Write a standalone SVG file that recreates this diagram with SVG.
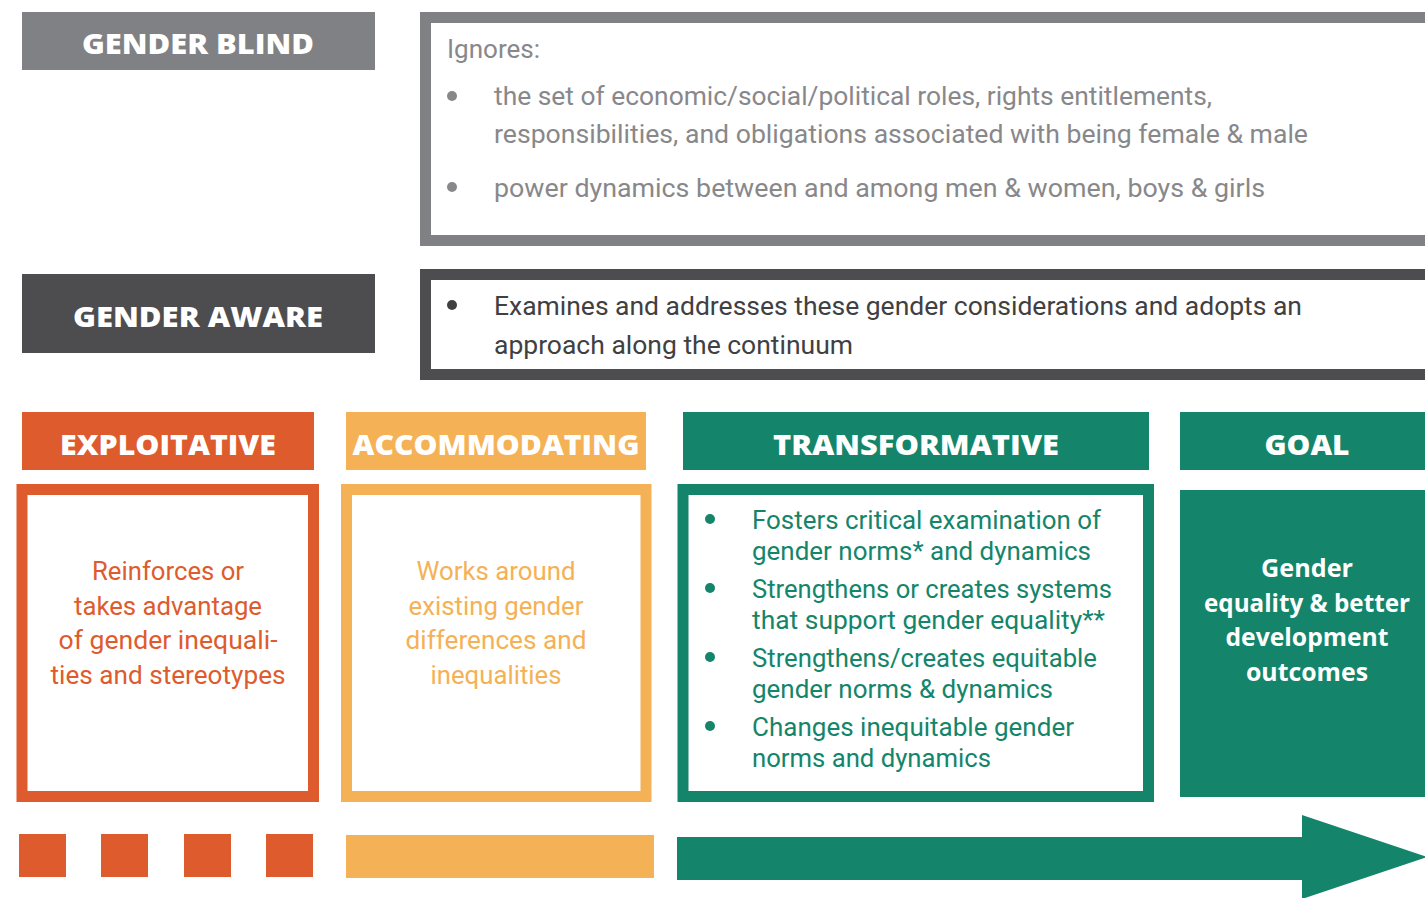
<svg xmlns="http://www.w3.org/2000/svg" width="1425" height="898" viewBox="0 0 1425 898">
<style>
.hd{font-family:"Open Sans","Liberation Sans",sans-serif;font-weight:800;font-size:29px;fill:#fff;text-anchor:middle}
.bd{font-family:Roboto,"Liberation Sans",sans-serif;font-size:26px}
.gb{font-family:"Open Sans","Liberation Sans",sans-serif;font-weight:700;font-size:25px;fill:#fff;text-anchor:middle}
.gray{fill:#88888b}.dark{fill:#404042}.org{fill:#de5b2e}.yel{fill:#f5b155}.grn{fill:#14856a}
.mid{text-anchor:middle}
</style>
<rect width="1425" height="898" fill="#fff"/>
<g id="gender-blind">
<rect x="22" y="12" width="353" height="58" fill="#808184"/>
<text class="hd" x="198" y="54" textLength="232" lengthAdjust="spacingAndGlyphs">GENDER BLIND</text>
</g>
<g id="gender-blind-desc">
<rect x="425.5" y="17.5" width="1010" height="223" fill="#fff" stroke="#808184" stroke-width="11"/>
<text class="bd gray" x="447" y="58" textLength="93" lengthAdjust="spacingAndGlyphs">Ignores:</text>
<circle cx="452" cy="96" r="5" fill="#88888b"/>
<text class="bd gray" x="494" y="105" textLength="718" lengthAdjust="spacingAndGlyphs">the set of economic/social/political roles, rights entitlements,</text>
<text class="bd gray" x="494" y="143" textLength="814" lengthAdjust="spacingAndGlyphs">responsibilities, and obligations associated with being female &amp; male</text>
<circle cx="452" cy="187" r="5" fill="#88888b"/>
<text class="bd gray" x="494" y="197" textLength="771" lengthAdjust="spacingAndGlyphs">power dynamics between and among men &amp; women, boys &amp; girls</text>
</g>
<g id="gender-aware">
<rect x="22" y="274" width="353" height="79" fill="#4d4d4f"/>
<text class="hd" x="198" y="327" textLength="250" lengthAdjust="spacingAndGlyphs">GENDER AWARE</text>
</g>
<g id="gender-aware-desc">
<rect x="425.5" y="274.5" width="1010" height="100" fill="#fff" stroke="#4d4d4f" stroke-width="11"/>
<circle cx="452" cy="305" r="5" fill="#404042"/>
<text class="bd dark" x="494" y="315" textLength="808" lengthAdjust="spacingAndGlyphs">Examines and addresses these gender considerations and adopts an</text>
<text class="bd dark" x="494" y="354" textLength="359" lengthAdjust="spacingAndGlyphs">approach along the continuum</text>
</g>
<g id="exploitative">
<rect x="22" y="412" width="292" height="58" fill="#de5b2e"/>
<text class="hd" x="168" y="455" textLength="216" lengthAdjust="spacingAndGlyphs">EXPLOITATIVE</text>
<rect x="22" y="489.5" width="291.5" height="307" fill="#fff" stroke="#de5b2e" stroke-width="11"/>
<text class="bd org mid" x="168" y="580" textLength="152" lengthAdjust="spacingAndGlyphs">Reinforces or</text>
<text class="bd org mid" x="168" y="615" textLength="188" lengthAdjust="spacingAndGlyphs">takes advantage</text>
<text class="bd org mid" x="168" y="649" textLength="219" lengthAdjust="spacingAndGlyphs">of gender inequali-</text>
<text class="bd org mid" x="168" y="684" textLength="235" lengthAdjust="spacingAndGlyphs">ties and stereotypes</text>
</g>
<g id="accommodating">
<rect x="346" y="412" width="300" height="58" fill="#f5b155"/>
<text class="hd" x="496" y="455" textLength="287" lengthAdjust="spacingAndGlyphs">ACCOMMODATING</text>
<rect x="346.5" y="489.5" width="299.5" height="307" fill="#fff" stroke="#f5b155" stroke-width="11"/>
<text class="bd yel mid" x="496" y="580" textLength="159" lengthAdjust="spacingAndGlyphs">Works around</text>
<text class="bd yel mid" x="496" y="615" textLength="175" lengthAdjust="spacingAndGlyphs">existing gender</text>
<text class="bd yel mid" x="496" y="649" textLength="181" lengthAdjust="spacingAndGlyphs">differences and</text>
<text class="bd yel mid" x="496" y="684" textLength="131" lengthAdjust="spacingAndGlyphs">inequalities</text>
</g>
<g id="transformative">
<rect x="683" y="412" width="466" height="58" fill="#14856a"/>
<text class="hd" x="916" y="455" textLength="286" lengthAdjust="spacingAndGlyphs">TRANSFORMATIVE</text>
<rect x="683" y="489.5" width="465.5" height="307" fill="#fff" stroke="#14856a" stroke-width="11"/>
<circle cx="710" cy="519" r="5" fill="#14856a"/>
<text class="bd grn" x="752" y="529" textLength="349" lengthAdjust="spacingAndGlyphs">Fosters critical examination of</text>
<text class="bd grn" x="752" y="560" textLength="339" lengthAdjust="spacingAndGlyphs">gender norms* and dynamics</text>
<circle cx="710" cy="588" r="5" fill="#14856a"/>
<text class="bd grn" x="752" y="598" textLength="360" lengthAdjust="spacingAndGlyphs">Strengthens or creates systems</text>
<text class="bd grn" x="752" y="629" textLength="353" lengthAdjust="spacingAndGlyphs">that support gender equality**</text>
<circle cx="710" cy="657" r="5" fill="#14856a"/>
<text class="bd grn" x="752" y="667" textLength="345" lengthAdjust="spacingAndGlyphs">Strengthens/creates equitable</text>
<text class="bd grn" x="752" y="698" textLength="301" lengthAdjust="spacingAndGlyphs">gender norms &amp; dynamics</text>
<circle cx="710" cy="726" r="5" fill="#14856a"/>
<text class="bd grn" x="752" y="736" textLength="322" lengthAdjust="spacingAndGlyphs">Changes inequitable gender</text>
<text class="bd grn" x="752" y="767" textLength="239" lengthAdjust="spacingAndGlyphs">norms and dynamics</text>
</g>
<g id="goal">
<rect x="1180" y="412" width="245" height="58" fill="#14856a"/>
<text class="hd" x="1307" y="455" textLength="85" lengthAdjust="spacingAndGlyphs">GOAL</text>
<rect x="1180" y="490" width="245" height="307" fill="#14856a"/>
<text class="gb" x="1307" y="577" textLength="92" lengthAdjust="spacingAndGlyphs">Gender</text>
<text class="gb" x="1307" y="612" textLength="206" lengthAdjust="spacingAndGlyphs">equality &amp; better</text>
<text class="gb" x="1307" y="646" textLength="163" lengthAdjust="spacingAndGlyphs">development</text>
<text class="gb" x="1307" y="681" textLength="122" lengthAdjust="spacingAndGlyphs">outcomes</text>
</g>
<g id="connectors">
<rect x="19" y="834" width="47" height="43" fill="#de5b2e"/>
<rect x="101" y="834" width="47" height="43" fill="#de5b2e"/>
<rect x="184" y="834" width="47" height="43" fill="#de5b2e"/>
<rect x="266" y="834" width="47" height="43" fill="#de5b2e"/>
<rect x="346" y="835" width="308" height="43" fill="#f5b155"/>
<polygon points="677,837 1302,837 1302,815 1427,857 1302,899 1302,880 677,880" fill="#14856a"/>
</g>
</svg>
